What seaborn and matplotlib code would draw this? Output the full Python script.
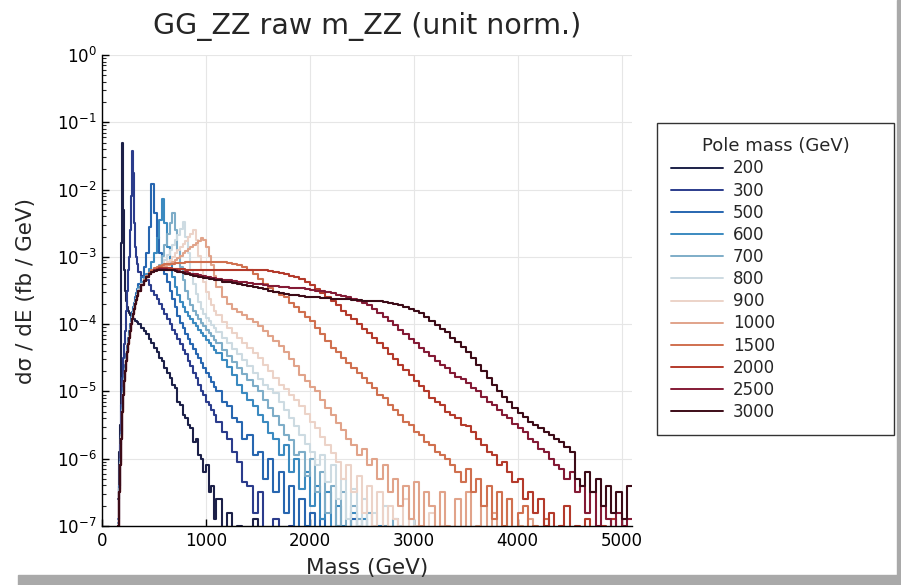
import numpy as np
import pandas as pd
import matplotlib
matplotlib.use("Agg")
import matplotlib.pyplot as plt
import seaborn as sns
from matplotlib.patches import Rectangle

# ---------------- data (log10 of dσ/dE; None = empty bin) -------------
pole_masses = ["200", "300", "500", "600", "700", "800", "900", "1000", "1500", "2000", "2500", "3000"]
line_colors = ["#1c2048", "#2b3c8c", "#2766b0", "#3b8ac0", "#7eadc8", "#cddbe2",
               "#ecd3c8", "#e1a38a", "#d0704f", "#b43a2b", "#841a35", "#3c0b17"]

# histogram bin left edges: 10 GeV (150-350), 25 GeV (350-1100), 50 GeV (1100-5100)
bin_lefts = np.concatenate([np.arange(150, 350, 10), np.arange(350, 1100, 25), np.arange(1100, 5100, 50)])
x_end = 5100

s200 = [-6.6, -5.9, -5.5, -2.8, -1.31, -2.3, -3.2, -3.5, -3.65, -3.75, -3.8, -3.83, -3.86, -3.88, -3.9, -3.92, -3.93, -3.95, -3.96, -3.97,
        -4.0, -4.05, -4.1, -4.15, -4.22, -4.28, -4.35, -4.42, -4.5, -4.55, -4.65, -4.72, -4.8, -4.9, -4.95, -5.15, -5.2, -5.35, -5.4, -5.5,
        -5.55, -5.75, -5.7, -5.95, -6.0, -6.2, -6.1, -6.5, -6.4, -6.9,
        -6.6, -7.1, -6.8, None, -7.0, None, None, -6.9]
s300 = [-7.0, -6.4, -5.8, -5.2, -4.8, -4.5, -4.3, -4.1, -3.8, -3.5, -3.2, -3.0, -2.6, -2.1, -1.42, -1.75, -2.5, -2.85, -3.0, -3.1,
        -3.22, -3.28, -3.3, -3.35, -3.42, -3.5, -3.57, -3.63, -3.7, -3.78, -3.85, -3.92, -4.0, -4.08, -4.15, -4.22, -4.3, -4.38, -4.45, -4.55,
        -4.62, -4.72, -4.8, -4.9, -5.0, -5.05, -5.15, -5.2, -5.28, -5.35,
        -5.45, -5.6, -5.7, -5.9, -6.05, -6.35, -6.4, -6.8, -6.5, -7.2, None, -6.9, None, None, -7.0]
s500 = [-6.9, -6.4, -6.0, -5.6, -5.2, -4.95, -4.75, -4.6, -4.45, -4.32, -4.2, -4.1, -4.0, -3.9, -3.82, -3.75, -3.68, -3.6, -3.54, -3.48,
        -3.4, -3.3, -3.15, -2.95, -2.55, -1.92, -2.35, -2.7, -2.95, -3.12, -3.25, -3.38, -3.5, -3.62, -3.75, -3.88, -3.98, -4.06, -4.14, -4.22,
        -4.3, -4.37, -4.44, -4.51, -4.58, -4.65, -4.72, -4.79, -4.86, -4.93,
        -5.0, -5.15, -5.22, -5.4, -5.45, -5.7, -5.65, -5.95, -5.9, -6.3, -6.0, -6.5, -6.2, -6.8, -6.4, None, -6.6, -7.0, -6.8, None,
        -6.9, None, None, -7.0, None, None, -6.9]
s600 = [-6.95, -6.45, -6.05, -5.65, -5.25, -5.0, -4.8, -4.65, -4.5, -4.37, -4.25, -4.15, -4.05, -3.95, -3.87, -3.8, -3.72, -3.65, -3.59, -3.53,
        -3.45, -3.37, -3.3, -3.25, -3.18, -3.08, -2.95, -2.72, -2.45, -2.14, -2.5, -2.85, -3.1, -3.3, -3.45, -3.57, -3.67, -3.75, -3.82, -3.88,
        -3.93, -3.98, -4.03, -4.08, -4.13, -4.18, -4.23, -4.28, -4.33, -4.38,
        -4.43, -4.53, -4.64, -4.75, -4.9, -5.02, -5.12, -5.22, -5.35, -5.45, -5.62, -5.7, -5.95, -5.8, -6.2, -6.0, -6.45, -6.2, -6.7, -6.4,
        -6.9, -6.5, None, -6.7, -7.0, None, -6.8, None, -6.9, None, None, -7.0]
s700 = [-7.0, -6.45, -6.05, -5.65, -5.28, -5.02, -4.82, -4.67, -4.52, -4.4, -4.28, -4.18, -4.08, -3.98, -3.9, -3.82, -3.75, -3.68, -3.62, -3.56,
        -3.48, -3.4, -3.33, -3.28, -3.24, -3.2, -3.18, -3.16, -3.12, -2.98, -2.82, -2.66, -2.5, -2.35, -2.6, -2.9, -3.15, -3.35, -3.5, -3.62,
        -3.72, -3.8, -3.87, -3.93, -3.98, -4.03, -4.08, -4.13, -4.18, -4.23,
        -4.28, -4.38, -4.47, -4.56, -4.65, -4.74, -4.83, -4.92, -5.0, -5.12, -5.25, -5.37, -5.5, -5.65, -5.72, -5.95, -5.9, -6.25, -6.0, -6.5,
        -6.2, -6.8, -6.4, -7.0, -6.5, None, -6.7, -6.9, None, -6.8, None, None, -7.0, None, -6.9]
s800 = [-7.0, -6.5, -6.08, -5.68, -5.3, -5.04, -4.84, -4.69, -4.54, -4.41, -4.29, -4.19, -4.09, -3.99, -3.91, -3.84, -3.77, -3.69, -3.63, -3.57,
        -3.49, -3.41, -3.35, -3.29, -3.25, -3.21, -3.19, -3.17, -3.15, -3.12, -3.05, -2.97, -2.9, -2.82, -2.75, -2.67, -2.58, -2.48, -2.7, -2.95,
        -3.2, -3.4, -3.55, -3.67, -3.77, -3.85, -3.91, -3.96, -4.01, -4.06,
        -4.11, -4.2, -4.28, -4.37, -4.45, -4.54, -4.62, -4.72, -4.82, -4.9, -4.96, -5.03, -5.15, -5.27, -5.4, -5.52, -5.65, -5.78, -5.9, -6.1,
        -5.95, -6.35, -6.1, -6.6, -6.3, -6.9, -6.45, -7.0, -6.6, None, -6.8, None, -6.7, None, None, -7.0, None, -6.9]
s900 = [-7.0, -6.5, -6.1, -5.7, -5.32, -5.06, -4.86, -4.71, -4.56, -4.43, -4.31, -4.21, -4.11, -4.01, -3.93, -3.86, -3.79, -3.71, -3.65, -3.59,
        -3.5, -3.42, -3.36, -3.3, -3.26, -3.22, -3.2, -3.18, -3.16, -3.15, -3.12, -3.08, -3.04, -3.0, -2.95, -2.9, -2.86, -2.81, -2.76, -2.71,
        -2.66, -2.6, -2.75, -2.98, -3.2, -3.38, -3.52, -3.63, -3.72, -3.8,
        -3.87, -3.97, -4.05, -4.13, -4.2, -4.28, -4.35, -4.43, -4.5, -4.6, -4.7, -4.8, -4.9, -4.97, -5.05, -5.12, -5.22, -5.33, -5.45, -5.55,
        -5.68, -5.8, -5.92, -6.05, -6.3, -6.1, -6.5, -6.25, -6.8, -6.4, -7.0, -6.5, None, -6.7, -6.9, None, -6.6, None, -7.0, None,
        None, -6.8, None, -7.0]
s1000 = [-7.0, -6.5, -6.1, -5.7, -5.3, -5.05, -4.85, -4.7, -4.55, -4.42, -4.3, -4.2, -4.1, -4.0, -3.92, -3.85, -3.78, -3.7, -3.64, -3.58,
         -3.5, -3.42, -3.36, -3.3, -3.26, -3.22, -3.2, -3.18, -3.16, -3.15, -3.14, -3.12, -3.1, -3.07, -3.04, -3.01, -2.98, -2.95, -2.92, -2.89,
         -2.86, -2.83, -2.8, -2.77, -2.72, -2.75, -2.85, -2.98, -3.12, -3.28,
         -3.45, -3.6, -3.7, -3.77, -3.82, -3.87, -3.92, -3.97, -4.03, -4.1, -4.17, -4.25, -4.33, -4.42, -4.52, -4.62, -4.75, -4.85, -4.93, -5.0,
         -5.12, -5.25, -5.35, -5.47, -5.58, -5.7, -5.8, -5.95, -5.85, -6.1, -6.0, -6.3, -6.1, -6.5, -6.3, -6.7, -6.4, -6.9, -6.35, -7.0,
         -6.5, -6.7, None, -6.5, -7.0, None, -6.6, None, -6.5, None, -7.0, -6.7, None, -6.8, None, None, -6.6, None, -7.0, None, -6.9]
s1500 = [-7.0, -6.5, -6.1, -5.7, -5.3, -5.05, -4.85, -4.7, -4.55, -4.42, -4.3, -4.2, -4.1, -4.0, -3.92, -3.85, -3.78, -3.7, -3.64, -3.58,
         -3.5, -3.42, -3.35, -3.29, -3.24, -3.2, -3.17, -3.15, -3.13, -3.12, -3.11, -3.1, -3.1, -3.1, -3.09, -3.09, -3.09, -3.09, -3.08, -3.08,
         -3.08, -3.08, -3.08, -3.08, -3.08, -3.08, -3.08, -3.08, -3.08, -3.08,
         -3.08, -3.08, -3.09, -3.1, -3.12, -3.15, -3.2, -3.26, -3.33, -3.4, -3.46, -3.52, -3.56, -3.6, -3.68, -3.75, -3.82, -3.89, -3.96, -4.05,
         -4.15, -4.25, -4.35, -4.42, -4.5, -4.58, -4.65, -4.72, -4.8, -4.87, -4.95, -5.05, -5.1, -5.2, -5.28, -5.35, -5.45, -5.5, -5.6, -5.65,
         -5.75, -5.8, -5.9, -5.95, -6.0, -6.1, -6.2, -6.35, -6.15, -6.5, -6.3, -6.7, -6.4, -6.9, -6.5, -7.0, -6.6, None, -6.8, -6.7,
         None, -7.0, None, -6.9, None, None, -7.0]
s2000 = [-7.0, -6.5, -6.1, -5.7, -5.3, -5.05, -4.85, -4.7, -4.55, -4.42, -4.3, -4.2, -4.1, -4.0, -3.92, -3.85, -3.78, -3.7, -3.64, -3.58,
         -3.5, -3.42, -3.36, -3.3, -3.26, -3.22, -3.2, -3.18, -3.17, -3.17, -3.17, -3.17, -3.17, -3.18, -3.18, -3.18, -3.18, -3.18, -3.19, -3.19,
         -3.19, -3.19, -3.19, -3.19, -3.19, -3.2, -3.2, -3.2, -3.2, -3.2,
         -3.2, -3.2, -3.2, -3.2, -3.2, -3.2, -3.2, -3.2, -3.2, -3.2, -3.21, -3.22, -3.24, -3.26, -3.28, -3.3, -3.33, -3.37, -3.42, -3.48,
         -3.54, -3.6, -3.65, -3.72, -3.8, -3.87, -3.93, -4.0, -4.07, -4.13, -4.2, -4.28, -4.36, -4.44, -4.52, -4.6, -4.68, -4.75, -4.85, -4.92,
         -5.0, -5.1, -5.15, -5.2, -5.3, -5.35, -5.4, -5.5, -5.52, -5.6, -5.7, -5.8, -5.9, -5.95, -6.1, -6.05, -6.2, -6.35, -6.3, -6.6,
         -6.5, -6.8, -6.6, -7.0, -6.8, None, -7.0, -6.7, None, -7.0, None, -6.9, None, None, -7.0, None, -6.9]
s2500 = [-7.0, -6.5, -6.1, -5.7, -5.3, -5.05, -4.85, -4.7, -4.55, -4.42, -4.3, -4.2, -4.1, -4.0, -3.92, -3.85, -3.78, -3.7, -3.64, -3.58,
         -3.5, -3.42, -3.36, -3.3, -3.26, -3.22, -3.2, -3.19, -3.18, -3.18, -3.18, -3.19, -3.19, -3.2, -3.2, -3.21, -3.22, -3.22, -3.23, -3.24,
         -3.25, -3.25, -3.26, -3.27, -3.28, -3.29, -3.3, -3.3, -3.31, -3.32,
         -3.33, -3.34, -3.35, -3.36, -3.37, -3.38, -3.39, -3.4, -3.41, -3.42, -3.43, -3.44, -3.45, -3.45, -3.46, -3.46, -3.47, -3.48, -3.49, -3.5,
         -3.51, -3.52, -3.54, -3.56, -3.58, -3.6, -3.62, -3.65, -3.68, -3.72, -3.78, -3.84, -3.9, -3.96, -4.02, -4.08, -4.15, -4.22, -4.28, -4.35,
         -4.42, -4.48, -4.55, -4.6, -4.65, -4.72, -4.78, -4.82, -4.88, -4.95, -5.0, -5.08, -5.15, -5.2, -5.28, -5.35, -5.4, -5.48, -5.55, -5.6,
         -5.7, -5.75, -5.85, -5.9, -6.0, -6.1, -6.15, -6.3, -6.2, -6.5, -6.4, -6.8, -6.5, -7.0, -6.7, -6.9, None, -6.8, -7.0, -6.9]
s3000 = [-7.0, -6.5, -6.1, -5.7, -5.3, -5.05, -4.85, -4.7, -4.55, -4.42, -4.3, -4.2, -4.1, -4.0, -3.92, -3.85, -3.78, -3.7, -3.64, -3.58,
         -3.5, -3.42, -3.36, -3.3, -3.26, -3.23, -3.21, -3.2, -3.19, -3.19, -3.19, -3.19, -3.2, -3.2, -3.21, -3.22, -3.23, -3.24, -3.25, -3.26,
         -3.27, -3.28, -3.29, -3.3, -3.3, -3.31, -3.32, -3.33, -3.33, -3.34,
         -3.35, -3.37, -3.38, -3.39, -3.41, -3.42, -3.44, -3.45, -3.47, -3.48, -3.5, -3.52, -3.53, -3.55, -3.56, -3.57, -3.58, -3.59, -3.6, -3.6,
         -3.61, -3.61, -3.62, -3.62, -3.63, -3.63, -3.64, -3.64, -3.65, -3.65, -3.66, -3.66, -3.67, -3.68, -3.7, -3.72, -3.74, -3.77, -3.8, -3.84,
         -3.9, -3.96, -4.02, -4.07, -4.12, -4.2, -4.27, -4.34, -4.42, -4.5, -4.6, -4.7, -4.8, -4.9, -5.0, -5.08, -5.15, -5.25, -5.32, -5.38,
         -5.45, -5.5, -5.55, -5.6, -5.65, -5.7, -5.75, -5.82, -5.9, -6.3, -6.4, -6.2, -6.5, -6.3, -6.7, -6.4, -6.8, -6.5, -6.9, -6.4]

series_log = [s200, s300, s500, s600, s700, s800, s900, s1000, s1500, s2000, s2500, s3000]

# ---------------- long table for seaborn (empty bins drawn at ~0, below the axis) ----------------
EMPTY = 1e-12
rows = []
n_bins = len(bin_lefts)
for label, vals in zip(pole_masses, series_log):
    lin = [10.0 ** v if v is not None else EMPTY for v in vals][:n_bins]
    lin = lin + [EMPTY] * (n_bins - len(lin))   # bins past the last filled one are empty
    xs = list(bin_lefts) + [x_end]
    ys = lin + [lin[-1]]
    for x, y in zip(xs, ys):
        rows.append({"mass": float(x), "val": y, "pole": label})
df = pd.DataFrame(rows)

# ---------------- figure ----------------
sns.set_style("white")
plt.rcParams["font.family"] = ["DejaVu Sans"]
plt.rcParams["mathtext.default"] = "regular"

W, H = 901, 585
fig = plt.figure(figsize=(W / 100, H / 100), dpi=100)
ax = fig.add_axes([102 / W, 1 - 526 / H, (632 - 102) / W, (526 - 55) / H])

sns.lineplot(data=df, x="mass", y="val", hue="pole", hue_order=pole_masses,
             palette=line_colors, estimator=None, sort=False, drawstyle="steps-post",
             linewidth=1.5, ax=ax, legend=True)

ax.set_yscale("log")
ax.set_ylim(1e-7, 1)
ax.set_xlim(0, 5100)
ax.set_xticks([0, 1000, 2000, 3000, 4000, 5000])
ax.set_yticks([10.0 ** k for k in range(-7, 1)])

ax.grid(True, which="major", color="#e6e6e6", linewidth=0.8)
ax.set_axisbelow(True)
for s in ["top", "right"]:
    ax.spines[s].set_visible(False)
for s in ["left", "bottom"]:
    ax.spines[s].set_color("black")
    ax.spines[s].set_linewidth(1.0)

ax.tick_params(axis="both", which="major", direction="in", length=5, width=1, labelsize=12,
               colors="black", pad=4)
ax.tick_params(axis="y", which="minor", direction="in", length=3, width=0.8)
ax.tick_params(axis="x", which="both", bottom=True)
ax.tick_params(axis="y", which="both", left=True)

ax.set_xlabel("Mass (GeV)", fontsize=15.5, labelpad=6)
ax.set_ylabel("dσ / dE (fb / GeV)", fontsize=15.5, labelpad=15)
ax.set_title("GG_ZZ raw m_ZZ (unit norm.)", fontsize=20.5, pad=15)

handles, labels = ax.get_legend_handles_labels()
ax.get_legend().remove()
leg = ax.legend(handles, labels, title="Pole mass (GeV)", loc="upper left",
                bbox_to_anchor=(657 / W, 1 - 433 / H, (894 - 657) / W, (433 - 123) / H),
                bbox_transform=fig.transFigure, mode="expand", borderaxespad=0,
                fontsize=12, title_fontsize=13, frameon=True, fancybox=False,
                framealpha=1, edgecolor="#333333", handlelength=3.1, handletextpad=0.6,
                labelspacing=0.25, borderpad=0.85)
leg.get_frame().set_linewidth(1.0)
for ln in leg.get_lines():
    ln.set_linewidth(1.4)

# grey frame/shadow along bottom and right edges
fig.patches.append(Rectangle((18 / W, 0), 1 - 18 / W, 10 / H, transform=fig.transFigure,
                             color="#a9a9a9", zorder=-1))
fig.patches.append(Rectangle((897 / W, 0), 4 / W, 1, transform=fig.transFigure,
                             color="#a9a9a9", zorder=-1))

fig.savefig("out.png", dpi=100)
